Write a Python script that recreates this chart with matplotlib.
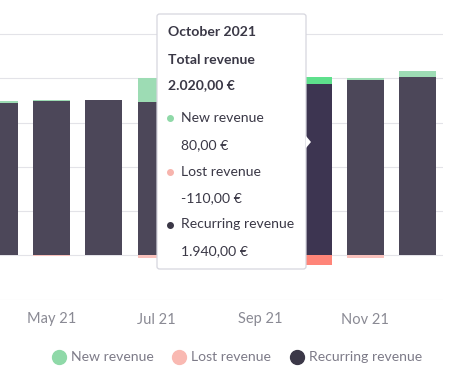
import matplotlib.pyplot as plt
from matplotlib.patches import FancyBboxPatch, Polygon
from matplotlib.lines import Line2D

plt.rcParams['font.family'] = ['Lato', 'DejaVu Sans']

months = ['Apr 21', 'May 21', 'Jun 21', 'Jul 21', 'Aug 21', 'Sep 21', 'Oct 21', 'Nov 21', 'Dec 21']
new_rev = [15, 20, 0, 275, 20, 22, 80, 23, 64]
lost_rev = [0, -5, 0, -25, 0, 0, -110, -30, 0]
recurring_rev = [1724, 1739, 1758, 1733, 2008, 2028, 1940, 1985, 2019]
hover = 6  # October is highlighted

legend_labels = ['New revenue', 'Lost revenue', 'Recurring revenue']
legend_colors = ['#8fd9a8', '#f9b9b2', '#3b3848']

# colours: full for the hovered month, muted for the rest
c_rec, c_new, c_lost = '#3d3551', '#5ee08c', '#ff8579'
m_rec, m_new, m_lost = '#4c4759', '#9ddcb4', '#f9c1bc'

fig = plt.figure(figsize=(4.52, 3.84), dpi=100)
W, H = 452, 384
ax = fig.add_axes([0, (H - 300) / H, 443 / W, 300 / H])

xs = list(range(len(months)))
for i in xs:
    hot = i == hover
    ax.bar(i, recurring_rev[i], width=0.71, color=c_rec if hot else m_rec, zorder=2)
    ax.bar(i, new_rev[i], width=0.71, bottom=recurring_rev[i], color=c_new if hot else m_new, zorder=2)
    ax.bar(i, lost_rev[i], width=0.71, color=c_lost if hot else m_lost, zorder=2)

ax.set_xlim(0.016, 8.486)
ax.set_ylim(-505, 2885)
ax.set_yticks([-500, 0, 500, 1000, 1500, 2000, 2500])
ax.yaxis.grid(True, color='#e3e3e8', linewidth=0.8, zorder=0)
ax.tick_params(axis='y', left=False, labelleft=False)
ax.set_xticks(xs[1::2])
ax.set_xticklabels(months[1::2])
ax.tick_params(axis='x', length=0, pad=9, labelsize=10.5, labelcolor='#8a8a94')
for s in ax.spines.values():
    s.set_visible(False)

def fx(px):
    return px / W

def fy(py):
    return (H - py) / H

# tooltip for October
box = FancyBboxPatch((fx(157), fy(269)), fx(306) - fx(157), fy(14) - fy(269),
                     boxstyle='round,pad=0,rounding_size=0.006', transform=fig.transFigure,
                     facecolor='white', edgecolor='#d6d6de', linewidth=0.9, zorder=5)
fig.patches.append(box)
arrow = Polygon([(fx(306), fy(136)), (fx(311), fy(142)), (fx(306), fy(148))], closed=True,
                transform=fig.transFigure, facecolor='white', edgecolor='none', zorder=6)
fig.patches.append(arrow)

dark = '#3a3846'
tips = [
    (168, 32.5, 'October 2021', 'bold', None),
    (168, 59.5, 'Total revenue', 'bold', None),
    (168, 85, '2.020,00 €', 'bold', None),
    (181, 117.5, 'New revenue', 'normal', '#8fd9a8'),
    (181, 145, '80,00 €', 'normal', None),
    (181, 171.5, 'Lost revenue', 'normal', '#f7b4ad'),
    (181, 198, '-110,00 €', 'normal', None),
    (181, 224.5, 'Recurring revenue', 'normal', '#3a3746'),
    (181, 251.5, '1.940,00 €', 'normal', None),
]
for x, y, txt, wt, dot in tips:
    fig.text(fx(x), fy(y), txt, fontsize=10.1, fontweight=wt, color=dark,
             va='center', ha='left', zorder=7)
    if dot:
        fig.add_artist(Line2D([fx(170.5)], [fy(y)], marker='o', markersize=4,
                              color=dot, transform=fig.transFigure, zorder=7))

# legend, drawn by hand
for px, lab, col in zip([59, 179, 297], legend_labels, legend_colors):
    fig.add_artist(Line2D([fx(px)], [fy(357)], marker='o', markersize=10,
                          color=col, transform=fig.transFigure))
    fig.text(fx(px + 12), fy(357), lab, fontsize=10.1, color='#7d7b88',
             va='center', ha='left')

fig.savefig('out.png', dpi=100)
